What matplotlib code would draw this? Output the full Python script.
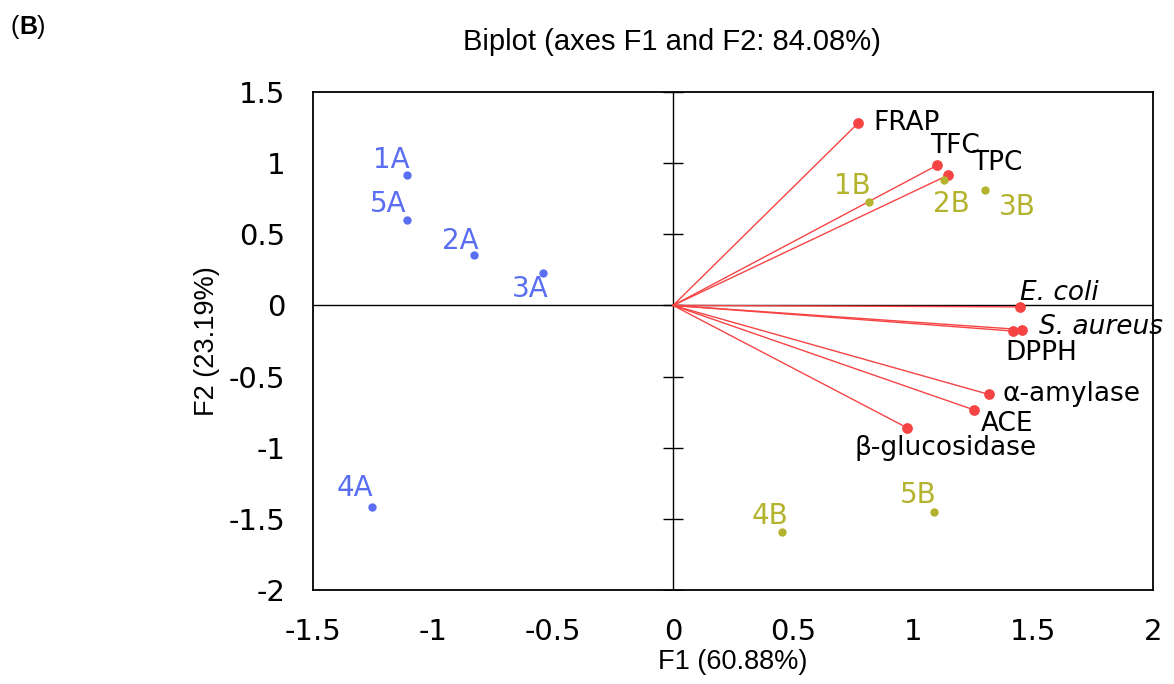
import matplotlib.pyplot as plt

# observations (scores)
a_names = ['1A', '5A', '2A', '3A', '4A']
a_f1 = [-1.11, -1.11, -0.83, -0.54, -1.255]
a_f2 = [0.92, 0.60, 0.355, 0.225, -1.415]

b_names = ['1B', '2B', '3B', '4B', '5B']
b_f1 = [0.815, 1.13, 1.30, 0.455, 1.085]
b_f2 = [0.725, 0.88, 0.81, -1.59, -1.45]

# variables (loadings)
v_names = ['FRAP', 'TFC', 'TPC', 'E. coli', 'S. aureus', 'DPPH',
           'α-amylase', 'ACE', 'β-glucosidase']
v_f1 = [0.77, 1.10, 1.145, 1.445, 1.455, 1.415, 1.315, 1.255, 0.975]
v_f2 = [1.28, 0.985, 0.915, -0.01, -0.17, -0.18, -0.625, -0.735, -0.86]

xticks = [-1.5, -1, -0.5, 0, 0.5, 1, 1.5, 2]
yticks = [-2, -1.5, -1, -0.5, 0, 0.5, 1, 1.5]

blue = '#5a6ef2'
olive = '#b3b32e'
red = '#f64444'
arial = 'Liberation Sans'

# label offsets in pixels
a_off = [(-15, 15), (-18, 16), (-14, 14), (-13, -16), (-17, 19)]
b_off = [(-16, 16), (7, -24), (32, -17), (-12, 16), (-15, 17)]
v_off = [(15, 0), (-7, 19), (24, 12), (0, 14), (17, 3), (-7, -22),
         (14, 0), (6, -14), (-53, -20)]
v_style = ['normal', 'normal', 'normal', 'italic', 'italic', 'normal',
           'normal', 'normal', 'normal']

fig = plt.figure(figsize=(11.74, 6.84), dpi=100)
ax = fig.add_axes([0.2666, 0.1374, 0.7157, 0.7281])

ax.set_xlim(-1.5, 2)
ax.set_ylim(-2, 1.5)

ax.axhline(0, color='black', lw=1, zorder=1)
ax.axvline(0, color='black', lw=1, zorder=1)
# ticks drawn on the vertical zero line
ax.plot([0] * len(yticks), yticks, ls='none', marker='_', ms=14,
        mew=1, color='black', zorder=1)

for x, y in zip(v_f1, v_f2):
    ax.plot([0, x], [0, y], color=red, lw=1, zorder=2)
ax.scatter(v_f1, v_f2, s=45, color=red, zorder=3)
ax.scatter(a_f1, a_f2, s=25, color=blue, zorder=3)
ax.scatter(b_f1, b_f2, s=25, color=olive, zorder=3)

for n, x, y, o in zip(a_names, a_f1, a_f2, a_off):
    ax.annotate(n, (x, y), xytext=o, textcoords='offset pixels',
                ha='center', va='center', fontsize=20, color=blue)
for n, x, y, o in zip(b_names, b_f1, b_f2, b_off):
    ax.annotate(n, (x, y), xytext=o, textcoords='offset pixels',
                ha='center', va='center', fontsize=20, color=olive)
for n, x, y, o, st in zip(v_names, v_f1, v_f2, v_off, v_style):
    ax.annotate(n, (x, y), xytext=o, textcoords='offset pixels',
                ha='left', va='center', fontsize=19, color='black',
                style=st, annotation_clip=False)

ax.set_xticks(xticks)
ax.set_xticklabels(['-1.5', '-1', '-0.5', '0', '0.5', '1', '1.5', '2'])
ax.set_yticks(yticks)
ax.set_yticklabels(['-2', '-1.5', '-1', '-0.5', '0', '0.5', '1', '1.5'])
ax.tick_params(length=0, labelsize=21, pad=20)
for s in ax.spines.values():
    s.set_linewidth(1.3)

ax.set_xlabel('F1 (60.88%)', fontsize=19.5, family=arial, labelpad=2)
ax.set_ylabel('F2 (23.19%)', fontsize=19.5, family=arial, labelpad=6)
ax.set_title('Biplot (axes F1 and F2: 84.08%)', fontsize=21, family=arial,
             x=0.427, pad=30)

fig.text(10 / 1174, 1 - 34 / 684, '(', fontsize=18, family=arial,
         va='baseline')
fig.text(19 / 1174, 1 - 34 / 684, 'B', fontsize=18, family=arial,
         fontweight='bold', va='baseline')
fig.text(37 / 1174, 1 - 34 / 684, ')', fontsize=18, family=arial,
         va='baseline')

fig.savefig('out.png', dpi=100)
